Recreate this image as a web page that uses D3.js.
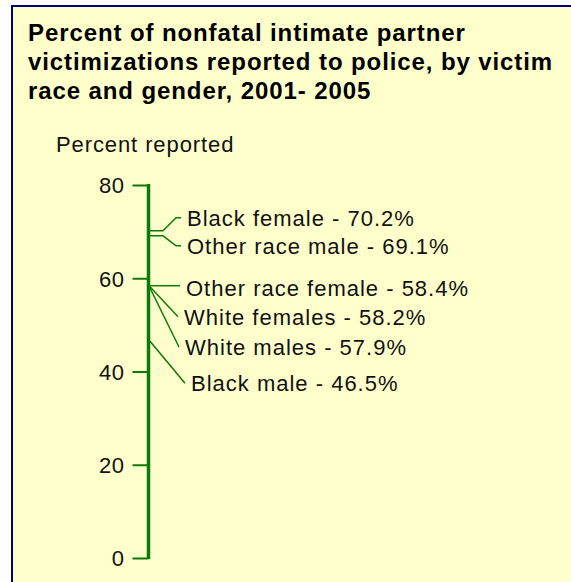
<!DOCTYPE html>
<html>
<head>
<meta charset="utf-8">
<script src="https://cdn.jsdelivr.net/npm/d3@7"></script>
<style>
  body { margin: 0; background: #fff; }
  svg { display: block; }
  text { font-family: Arial, "Liberation Sans", sans-serif; }
</style>
</head>
<body>
<div id="chart"></div>
<script>
// Data
const titleLines = [
    "Percent of nonfatal intimate partner",
    "victimizations reported to police, by victim",
    "race and gender, 2001- 2005"
];
const groups = ["Black female", "Other race male", "Other race female", "White females", "White males", "Black male"];
const percents = [70.2, 69.1, 58.4, 58.2, 57.9, 46.5];
const tickValues = [0, 20, 40, 60, 80];

// Label layout: vertical dodge (px from the value), leader style, leader end x
const labelDy = [-13, 10, 2, 30, 59, 42];
const leaderType = ["elbow", "elbow", "straight", "diag", "diag", "diag"];
const leaderEnd = [181, 181, 180, 178, 179, 185];

const width = 571, height = 582;
const green = "#0b7a0b";

const svg = d3.select("#chart")
    .append("svg")
    .attr("width", width)
    .attr("height", height);

// Panel
svg.append("rect")
    .attr("x", 12).attr("y", 6)
    .attr("width", 700).attr("height", 700)
    .attr("fill", "#ffffcc")
    .attr("stroke", "#000080")
    .attr("stroke-width", 2);

// Title
svg.append("g")
    .selectAll("text")
    .data(titleLines)
    .join("text")
    .attr("x", 28)
    .attr("y", (d, i) => 41 + i * 29)
    .attr("font-size", "24px")
    .attr("font-weight", "bold")
    .attr("letter-spacing", "0.9px")
    .attr("fill", "#000")
    .text(d => d);

svg.append("text")
    .attr("x", 56)
    .attr("y", 152)
    .attr("font-size", "22px")
    .attr("letter-spacing", "0.9px")
    .attr("fill", "#111")
    .text("Percent reported");

// Scale + axis
const axisX = 148.5;
const y = d3.scaleLinear().domain([0, 80]).range([558, 185]);

const axis = svg.append("g")
    .attr("transform", `translate(${axisX},0)`)
    .call(d3.axisLeft(y)
        .tickValues(tickValues)
        .tickSize(16)
        .tickSizeOuter(0)
        .tickPadding(8));

axis.select(".domain")
    .attr("stroke", green)
    .attr("stroke-width", 3.5)
    .attr("d", `M0,${y(0) + 1}V${y(80) - 1}`);

axis.selectAll(".tick line")
    .attr("stroke", green)
    .attr("stroke-width", 2);

axis.selectAll(".tick text")
    .attr("font-size", "22px")
    .attr("font-family", "Arial, 'Liberation Sans', sans-serif")
    .attr("letter-spacing", "0.5px")
    .attr("fill", "#111")
    .attr("dy", "0.36em");

// Leaders + labels
const labels = groups.map((g, i) => ({
    name: g,
    value: percents[i],
    y0: y(percents[i]),
    y1: y(percents[i]) + labelDy[i],
    type: leaderType[i],
    xEnd: leaderEnd[i]
}));

const x0 = axisX + 1.5;

function leaderPath(d) {
    if (d.type === "straight") {
        return `M${x0},${d.y0}H${d.xEnd}`;
    }
    if (d.type === "elbow") {
        return `M${x0},${d.y0}H${x0 + 13}L${d.xEnd - 5},${d.y1}H${d.xEnd}`;
    }
    return `M${x0},${d.y0}L${d.xEnd},${d.y1}`;
}

svg.append("g")
    .selectAll("path")
    .data(labels)
    .join("path")
    .attr("d", leaderPath)
    .attr("fill", "none")
    .attr("stroke", green)
    .attr("stroke-width", 1.5);

svg.append("g")
    .selectAll("text")
    .data(labels)
    .join("text")
    .attr("x", d => d.xEnd + 6)
    .attr("y", d => d.y1)
    .attr("dy", "0.36em")
    .attr("font-size", "22px")
    .attr("letter-spacing", "1px")
    .attr("fill", "#111")
    .text(d => `${d.name} - ${d.value.toFixed(1)}%`);
</script>
</body>
</html>
